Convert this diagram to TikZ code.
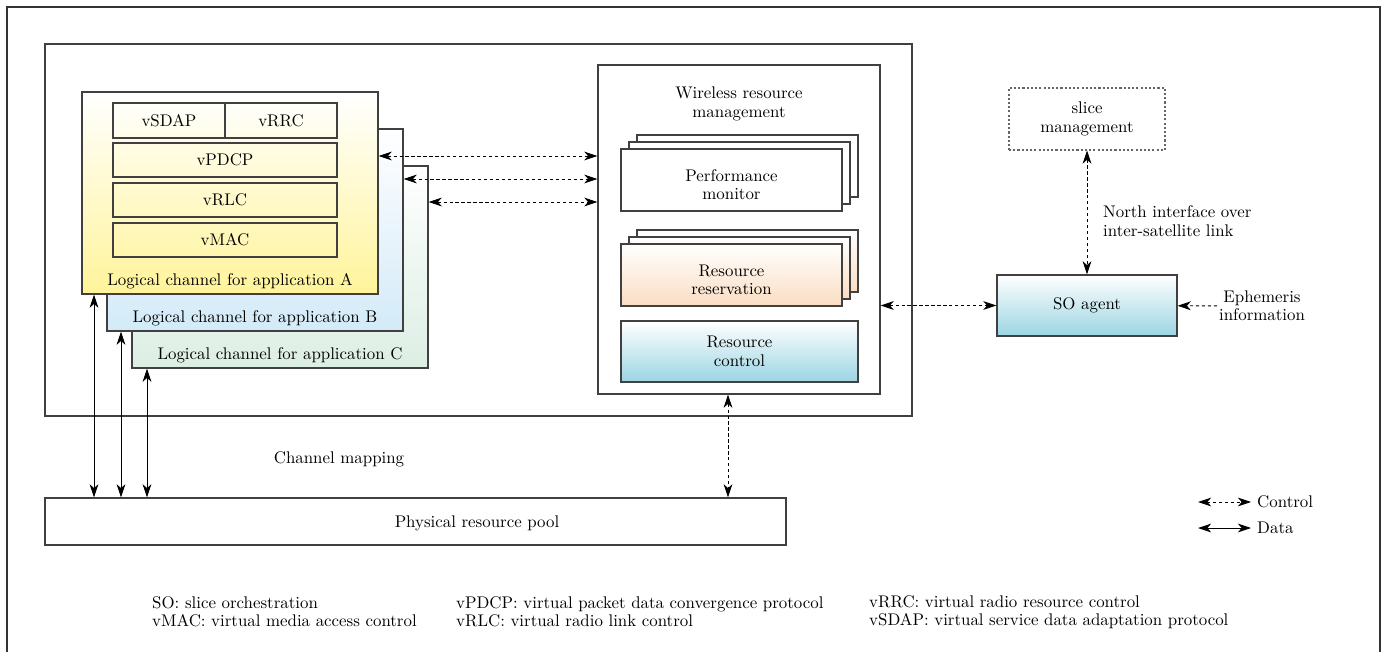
\documentclass[tikz,border=0pt]{standalone}
\usetikzlibrary{arrows.meta, fit}
\definecolor{chAcol}{HTML}{FFF49A}
\definecolor{chBcol}{HTML}{D3EAF8}
\definecolor{chCcol}{HTML}{DCEEE4}
\definecolor{rsvcol}{HTML}{FADDC2}
\definecolor{ctlcol}{HTML}{9BD5E2}
\tikzset{
	>={Stealth[length=7.5pt, width=5pt, inset=2.2pt]},
	box/.style={draw=black!75, line width=.7pt, inner sep=0pt},
	chan/.style={box, top color=white, bottom color=#1},
	ctrl/.style={<->, line width=.5pt, dash pattern=on 1.8pt off 1.6pt},
	data/.style={<->, line width=.5pt},
}
% box between two corners, with its text in the middle
\newcommand{\blk}[5][]{
	\node[box, #1, fit={#3 #4}] (#2) {};
	\node[align=center] (#2text) at (#2.center) {#5};
}
% three boxes stacked behind one another, the front one named #1
\newcommand{\stackbox}[5]{
	\foreach \k in {2,1}
		\node[box, top color=white, bottom color=#4, fit={(#2+8*\k, #3-7*\k) (#2+221+8*\k, #3+62-7*\k)}] (#1\k) {};
	\node[box, top color=white, bottom color=#4, fit={(#2, #3) (#2+221, #3+62)}] (#1) {};
	\node[align=center] (#1text) at ([yshift=-2.8pt]#1.center) {#5};
}

\begin{document}
\begin{tikzpicture}[x=.02cm, y=-.02cm, every node/.append style={font=\fontsize{9.6}{10.5}\selectfont}]
	\useasboundingbox (0,0) rectangle (1388,652);
	\draw[black!80, line width=.8pt] (7,652) |- (1380,7) -- (1380,652);
	\node[box, fit={(45,44) (912,416)}] (sat) {};

	% logical channels, back to front
	\node[chan=chCcol, fit={(132,166) (428,368)}] (chC) {};
	\node[chan=chBcol, fit={(107,129) (403,331)}] (chB) {};
	\node[chan=chAcol, fit={(82,92) (378,294)}] (chA) {};
	\foreach \n in {A,B,C}
		\path (ch\n.south) ++(0,-13) node (lab\n) {Logical channel for application \n};
	\blk{sdap}{(113,103)}{(225,138)}{vSDAP}
	\blk{rrc}{(225,103)}{(337,138)}{vRRC}
	\foreach \t [count=\i] in {vPDCP,vRLC,vMAC}
		{\blk{layer\i}{(113,103+40*\i)}{(337,137+40*\i)}{\t}}

	% wireless resource management
	\node[box, fit={(598,65) (880,394)}] (wrm) {};
	\node[align=center] (wrmtitle) at (739,104) {Wireless resource\\management};
	\stackbox{pm}{621}{149}{white}{Performance\\monitor}
	\stackbox{rr}{621}{244}{rsvcol}{Resource\\reservation}
	\blk[top color=white, bottom color=ctlcol]{rc}{(621,321)}{(858,382)}{Resource\\control}

	% slice orchestration side
	\blk[top color=white, bottom color=ctlcol]{so}{(997,275)}{(1177,336)}{SO agent}
	\blk[draw=black!60, line width=.6pt, dash pattern=on 1.2pt off 1.2pt]{slice}{(1009,88)}{(1165,150)}{slice\\management}
	\node[anchor=west, align=left] (north) at (1097,221) {North interface over\\inter-satellite link};
	\node[align=center, inner sep=1pt] (eph) at (1262,306) {Ephemeris\\information};

	\node[box, fit={(45,498) (786,545)}] (pool) {};
	\node (pooltext) at (477,523) {Physical resource pool};
	\node (chmap) at (339,459) {Channel mapping};

	\foreach \n/\y in {A/156,B/179,C/202}
		\draw[ctrl] (ch\n.east |- 0,\y) -- (wrm.west |- 0,\y);
	\draw[ctrl] (wrm.east |- so.west) -- (so.west);
	\draw[ctrl] (slice) -- (so);
	\draw[ctrl, ->] (eph) -- (so);
	\draw[ctrl] (wrm.south -| 728,0) -- (pool.north -| 728,0);
	\foreach \n/\x in {A/94,B/121,C/147}
		\draw[data] (ch\n.south -| \x,0) -- (pool.north -| \x,0);

	% key
	\coordinate (ctl0) at (1198,502);
	\coordinate (dat0) at (1198,528);
	\node[anchor=west] (ctlkey) at (1251,502) {Control};
	\node[anchor=west] (datkey) at (1251,528) {Data};
	\draw[ctrl] (ctl0) -- (ctlkey.west);
	\draw[data] (dat0) -- (datkey.west);

	% abbreviations
	\node[anchor=west, align=left] (abbr1) at (146,612) {SO: slice orchestration\\vMAC: virtual media access control};
	\node[anchor=west, align=left] (abbr2) at (450,612) {vPDCP: virtual packet data convergence protocol\\vRLC: virtual radio link control};
	\node[anchor=west, align=left] (abbr3) at (863,612) {vRRC: virtual radio resource control\\vSDAP: virtual service data adaptation protocol};
\end{tikzpicture}
\end{document}
